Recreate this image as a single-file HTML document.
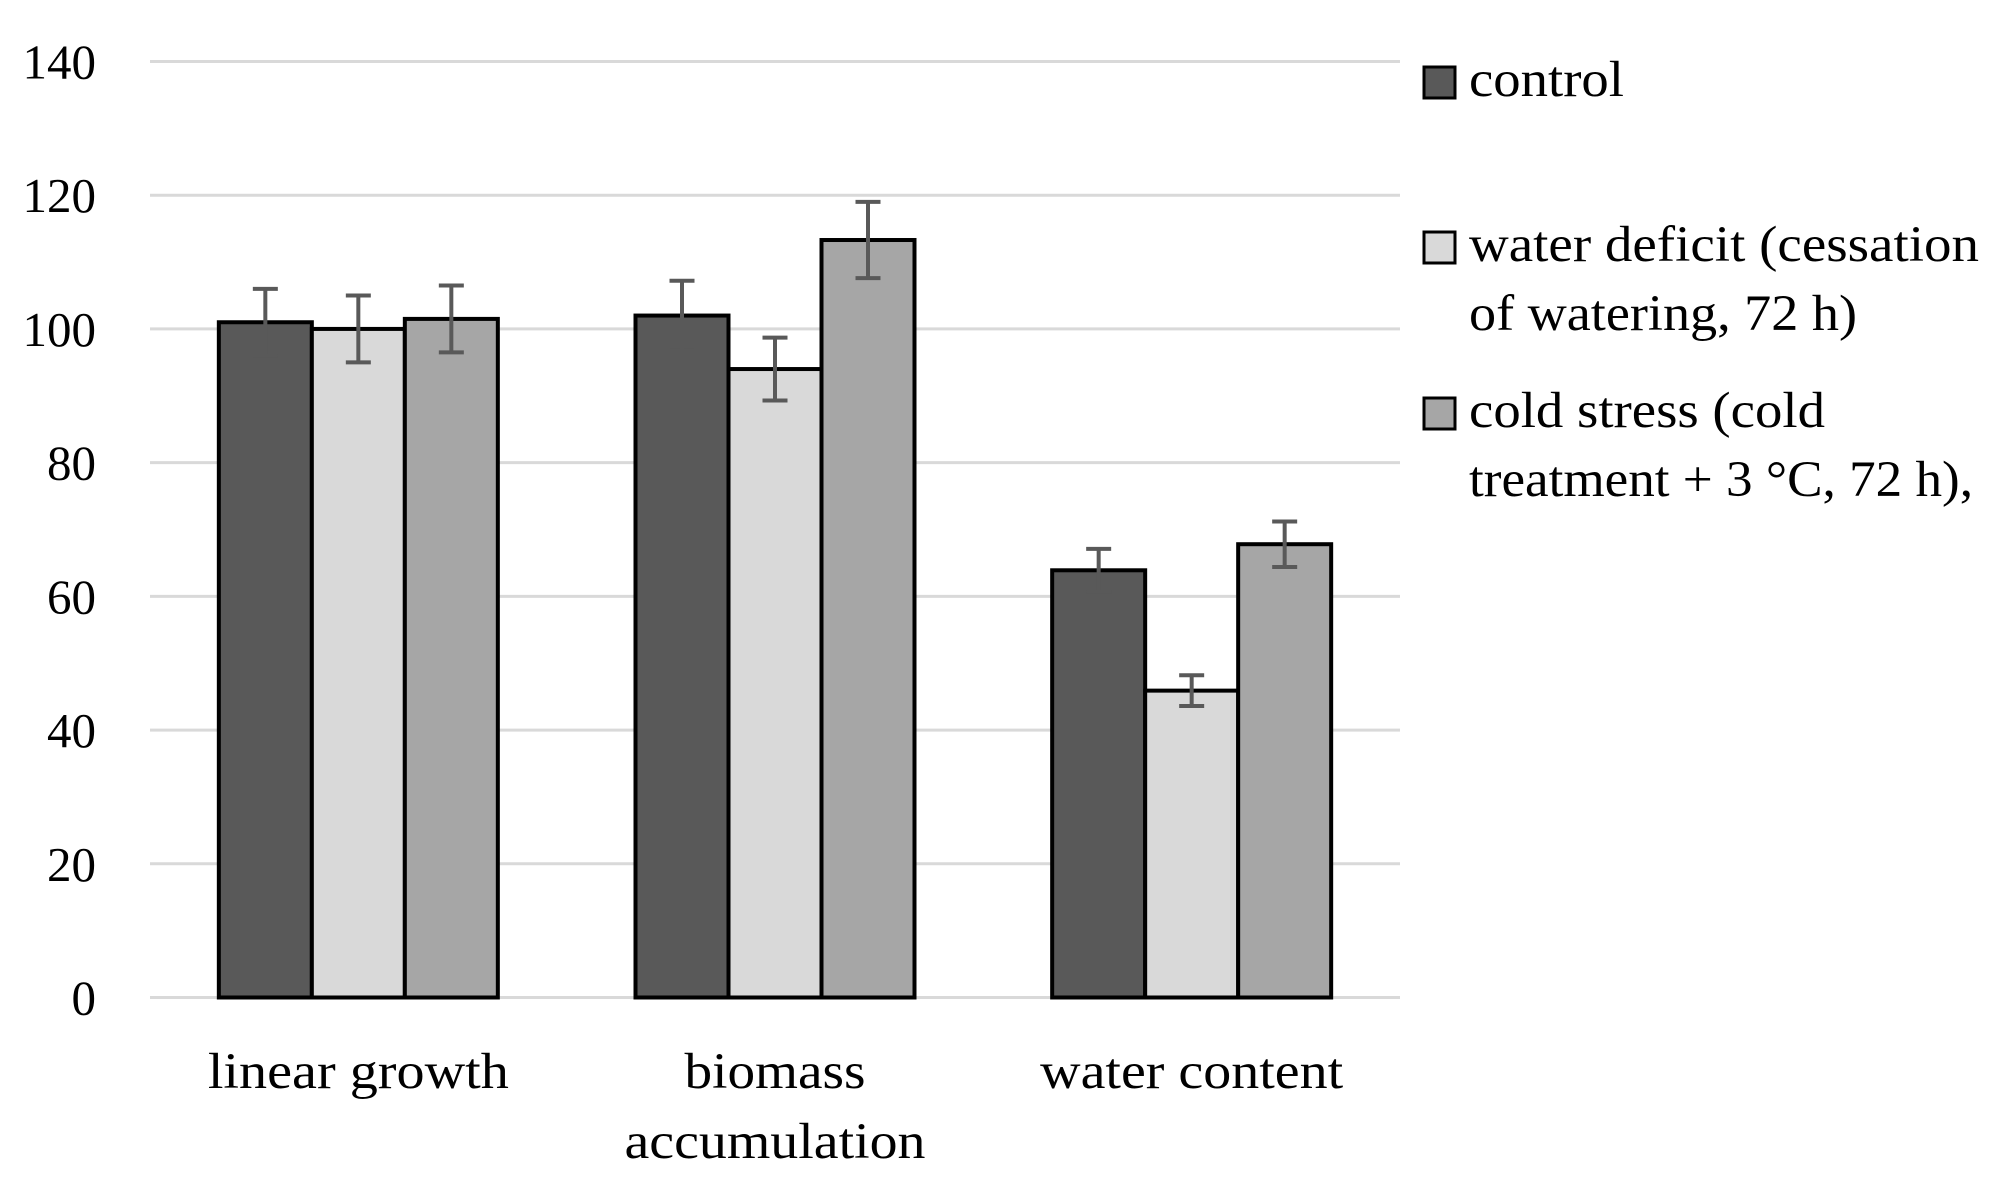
<!DOCTYPE html>
<html><head><meta charset="utf-8"><style>
html,body{margin:0;padding:0;background:#fff;}
svg{display:block;font-family:"Liberation Serif",serif;}
</style></head><body>
<svg id="chart" width="2000" height="1184" viewBox="0 0 2000 1184" xmlns="http://www.w3.org/2000/svg">
<g id="grid"></g><g id="bars"></g><g id="errs"></g><g id="ticks"></g><g id="cats"></g><g id="legend"></g>
</svg>
<script>
const categories = [["linear growth"], ["biomass", "accumulation"], ["water content"]];
const seriesNames = [["control"], ["water deficit (cessation", "of watering, 72 h)"], ["cold stress (cold", "treatment + 3 °C, 72 h),"]];
const controlValues = [101, 102, 63.9];
const deficitValues = [100, 94, 45.9];
const coldValues = [101.5, 113.3, 67.8];
const controlErr = [5, 5.2, 3.2];
const deficitErr = [5, 4.7, 2.3];
const coldErr = [5, 5.7, 3.4];
const yTicks = [0, 20, 40, 60, 80, 100, 120, 140];

const NS = "http://www.w3.org/2000/svg";
const colors = ["#595959", "#d9d9d9", "#a6a6a6"];
const catTextW = [[301], [181, 301], [303]];
const legTextW = [[155], [510, 388], [356, 504]];
const series = [controlValues, deficitValues, coldValues];
const errs = [controlErr, deficitErr, coldErr];
const left = 150, right = 1400, y0 = 997.5, y140 = 61.5;
const y = v => y0 - (v / 140) * (y0 - y140);
const catW = (right - left) / categories.length;
const barW = 93;
const xc = i => left + catW * (i + 0.5);
function mk(tag, attrs, parent) {
  const e = document.createElementNS(NS, tag);
  for (const k in attrs) e.setAttribute(k, attrs[k]);
  document.getElementById(parent).appendChild(e);
  return e;
}
yTicks.forEach(t => {
  const l = mk("line", {x1: left, x2: right, y1: y(t), y2: y(t), stroke: "#d9d9d9", "stroke-width": 3}, "grid");
  
  
  const tx = mk("text", {x: 96, y: y(t) + 17, "text-anchor": "end", "font-size": 49, fill: "#000"}, "ticks");
  tx.textContent = t;
  
  
});
categories.forEach((c, i) => {
  series.forEach((s, j) => {
    const x = xc(i) + (j - 1.5) * barW;
    const r = mk("rect", {x: x, y: y(s[i]), width: barW, height: y0 - y(s[i]), fill: colors[j], stroke: "#000", "stroke-width": 4}, "bars");
    
    
    const cx = x + barW / 2, top = y(s[i] + errs[j][i]), bot = y(s[i] - errs[j][i]);
    const e = mk("path", {d: `M${cx} ${top}V${bot}M${cx-12.5} ${top}H${cx+12.5}M${cx-12.5} ${bot}H${cx+12.5}`, stroke: "#595959", "stroke-width": 4, fill: "none"}, "errs");
    
    
  });
  c.forEach((line, k) => {
    const t = mk("text", {x: xc(i), y: 1088 + k * 70, "text-anchor": "middle", "font-size": 51, fill: "#000", textLength: catTextW[i][k], lengthAdjust: "spacingAndGlyphs"}, "cats");
    t.textContent = line;
    
    
  });
});
const legY = [96, 261, 427];
seriesNames.forEach((n, j) => {
  const r = mk("rect", {x: 1424, y: legY[j] - 29, width: 31, height: 31, fill: colors[j], stroke: "#000", "stroke-width": 3}, "legend");
  
  
  n.forEach((line, k) => {
    const t = mk("text", {x: 1469, y: legY[j] + k * 69, "font-size": 51, fill: "#000", textLength: legTextW[j][k], lengthAdjust: "spacingAndGlyphs"}, "legend");
    t.textContent = line;
    
    
  });
});
</script>
</body></html>
